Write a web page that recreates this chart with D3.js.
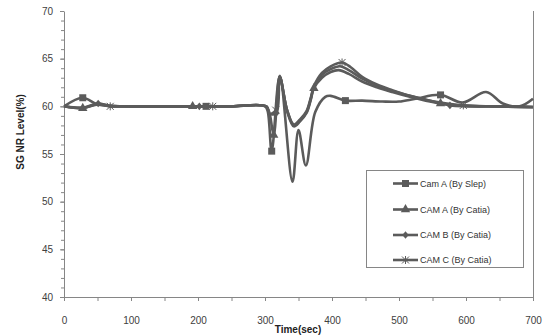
<!DOCTYPE html>
<html>
<head>
<meta charset="utf-8">
<script src="https://cdn.jsdelivr.net/npm/d3@7"></script>
<style>
  body { margin: 0; background: #fff; }
  svg { display: block; font-family: "Liberation Sans", Arial, sans-serif; }
</style>
</head>
<body>
<script>
'use strict';

// ---- data ----
var seriesNames = ['Cam A (By Slep)', 'CAM A (By Catia)', 'CAM B (By Catia)', 'CAM C (By Catia)'];
var markerTypes = ['square', 'triangle', 'diamond', 'star'];

var slepT = [0, 28, 50, 80, 150, 212, 250, 300, 304, 310, 322, 341, 350, 361, 375, 390, 398, 420, 445, 475, 500, 525, 562, 595, 630, 655, 680, 700];
var slepV = [60, 60.9, 60.2, 60.0, 60.0, 60.0, 60.0, 60.0, 59.5, 55.3, 63.2, 52.1, 57.5, 53.8, 59.4, 61.0, 61.1, 60.6, 60.6, 60.5, 60.5, 60.8, 61.2, 60.4, 61.5, 60.3, 60.0, 60.8];
var slepMarks = [28, 212, 310, 420, 562];

var camAT = [0, 28, 51, 69, 100, 192, 250, 302, 307, 313, 322, 333, 343, 352, 362, 368, 373, 385, 398, 410, 425, 445, 467, 490, 516, 540, 562, 590, 620, 660, 700];
var camAV = [60, 59.8, 60.25, 60.05, 60.0, 60.0, 60.0, 60.0, 59.2, 57.0, 63.1, 59.5, 57.9, 58.4, 59.3, 60.6, 61.9, 63.0, 63.6, 63.8, 63.4, 62.6, 62.0, 61.5, 61.0, 60.6, 60.3, 60.1, 60.0, 60.0, 59.9];
var camAMarks = [28, 192, 313, 373, 562];

var camBT = [0, 28, 51, 69, 100, 202, 250, 302, 307, 317, 322, 333, 343, 352, 362, 368, 373, 385, 398, 412, 425, 445, 467, 490, 516, 540, 576, 600, 640, 700];
var camBV = [60, 59.85, 60.3, 60.05, 60.0, 60.0, 60.0, 60.0, 59.2, 59.3, 63.1, 59.6, 58.0, 58.5, 59.4, 60.7, 62.0, 63.3, 63.9, 64.2, 63.8, 62.9, 62.2, 61.6, 61.1, 60.7, 60.1, 60.0, 60.0, 59.9];
var camBMarks = [51, 202, 317, 576];

var camCT = [0, 28, 51, 69, 100, 222, 250, 302, 307, 316, 322, 333, 343, 352, 362, 368, 373, 385, 398, 415, 428, 445, 467, 490, 516, 540, 562, 596, 640, 700];
var camCV = [60, 59.85, 60.2, 60.0, 60.0, 60.0, 60.0, 60.0, 59.2, 59.6, 63.1, 59.6, 58.1, 58.6, 59.5, 60.8, 62.1, 63.5, 64.2, 64.6, 64.1, 63.1, 62.3, 61.7, 61.1, 60.7, 60.4, 60.1, 60.0, 59.95];
var camCMarks = [69, 222, 316, 415, 596];

var xTicks = [0, 100, 200, 300, 400, 500, 600, 700];
var yTicks = [40, 45, 50, 55, 60, 65, 70];

var W = 552, H = 335;
var lineColor = '#5b5b5b';
var axisColor = '#868686';

var svg = d3.select('body').append('svg').attr('width', W).attr('height', H);
svg.append('rect').attr('width', W).attr('height', H).attr('fill', '#fff');

var x = d3.scaleLinear().domain([0, 700]).range([64, 533]);
var y = d3.scaleLinear().domain([40, 70]).range([297, 11]);

var series = [
  { t: slepT, v: slepV, marks: slepMarks },
  { t: camAT, v: camAV, marks: camAMarks },
  { t: camBT, v: camBV, marks: camBMarks },
  { t: camCT, v: camCV, marks: camCMarks }
].map(function (s, i) {
  s.name = seriesNames[i];
  s.marker = markerTypes[i];
  s.points = s.t.map(function (t, j) { return { t: t, v: s.v[j] }; });
  return s;
});

// ---- axes ----
var minorY = d3.range(40, 71, 1);
var minorX = d3.range(0, 701, 50);

svg.append('g').attr('transform', 'translate(64,0)')
  .call(d3.axisLeft(y).tickValues(minorY).tickSize(3).tickFormat(''))
  .call(function (g) { g.select('.domain').remove(); g.selectAll('line').attr('stroke', axisColor); });
svg.append('g').attr('transform', 'translate(0,297)')
  .call(d3.axisBottom(x).tickValues(minorX).tickSize(4).tickFormat(''))
  .call(function (g) { g.select('.domain').remove(); g.selectAll('line').attr('stroke', axisColor); });

var yAxis = svg.append('g').attr('transform', 'translate(64,0)')
  .call(d3.axisLeft(y).tickValues(yTicks).tickSize(4).tickSizeOuter(0));
yAxis.select('.domain').attr('stroke', axisColor);
yAxis.selectAll('line').attr('stroke', axisColor);
yAxis.selectAll('text').attr('x', -11).attr('fill', '#404040').style('font-size', '10px');

var xAxis = svg.append('g').attr('transform', 'translate(0,297)')
  .call(d3.axisBottom(x).tickValues(xTicks).tickSize(4).tickSizeOuter(0));
xAxis.select('.domain').attr('stroke', axisColor);
xAxis.selectAll('line').attr('stroke', axisColor);
xAxis.selectAll('text').attr('y', 23).attr('dy', '0.35em').attr('fill', '#404040').style('font-size', '10px');

// right border of plot area
svg.append('line').attr('x1', 533.5).attr('x2', 533.5).attr('y1', 11).attr('y2', 297)
  .attr('stroke', axisColor);

// titles
svg.append('text').attr('transform', 'translate(20,132) rotate(-90)')
  .attr('text-anchor', 'middle').attr('dy', '0.35em')
  .style('font-size', '10px').style('font-weight', 'bold').attr('fill', '#222')
  .text('SG NR Level(%)');
svg.append('text').attr('x', 298).attr('y', 333)
  .attr('text-anchor', 'middle')
  .style('font-size', '10px').style('font-weight', 'bold').attr('fill', '#222')
  .text('Time(sec)');

// ---- markers ----
var drawMarker = function drawMarker(g, type, cx, cy) {
  if (type === 'square') {
    g.append('rect').attr('x', cx - 3.5).attr('y', cy - 3.5).attr('width', 7).attr('height', 7).attr('fill', lineColor);
  } else if (type === 'triangle') {
    g.append('path').attr('transform', 'translate(' + cx + ',' + cy + ')')
      .attr('d', d3.symbol().type(d3.symbolTriangle).size(38)()).attr('fill', lineColor);
  } else if (type === 'diamond') {
    g.append('path').attr('transform', 'translate(' + cx + ',' + cy + ')')
      .attr('d', 'M0,-3.8L3.2,0L0,3.8L-3.2,0Z').attr('fill', lineColor);
  } else {
    g.append('path').attr('transform', 'translate(' + cx + ',' + cy + ')')
      .attr('d', 'M-3.5,-3.5L3.5,3.5M-3.5,3.5L3.5,-3.5M0,-4L0,4')
      .attr('stroke', lineColor).attr('stroke-width', 1).attr('fill', 'none');
  }
};

// ---- lines ----
var line = d3.line()
  .x(function (d) { return x(d.t); })
  .y(function (d) { return y(d.v); })
  .curve(d3.curveCatmullRom.alpha(0.5));

var plot = svg.append('g');
series.forEach(function (s) {
  plot.append('path').datum(s.points)
    .attr('d', line)
    .attr('fill', 'none')
    .attr('stroke', lineColor)
    .attr('stroke-width', 2.6)
    .attr('stroke-linejoin', 'round');
});
series.forEach(function (s) {
  s.marks.forEach(function (t) {
    var p = s.points.find(function (d) { return d.t === t; });
    if (p) drawMarker(plot, s.marker, x(p.t), y(p.v));
  });
});

// ---- legend ----
var legend = svg.append('g');
legend.append('rect').attr('x', 366.5).attr('y', 170.5).attr('width', 157).attr('height', 97)
  .attr('fill', '#fff').attr('stroke', axisColor);
var rowY = [183.5, 209.5, 235, 260];
series.forEach(function (s, i) {
  var row = legend.append('g');
  row.append('line').attr('x1', 393).attr('x2', 418).attr('y1', rowY[i]).attr('y2', rowY[i])
    .attr('stroke', lineColor).attr('stroke-width', 2.6);
  drawMarker(row, s.marker, 405.5, rowY[i]);
  row.append('text').attr('x', 420).attr('y', rowY[i]).attr('dy', '0.35em')
    .style('font-size', '9px').attr('fill', '#333').text(s.name);
});
</script>
</body>
</html>
